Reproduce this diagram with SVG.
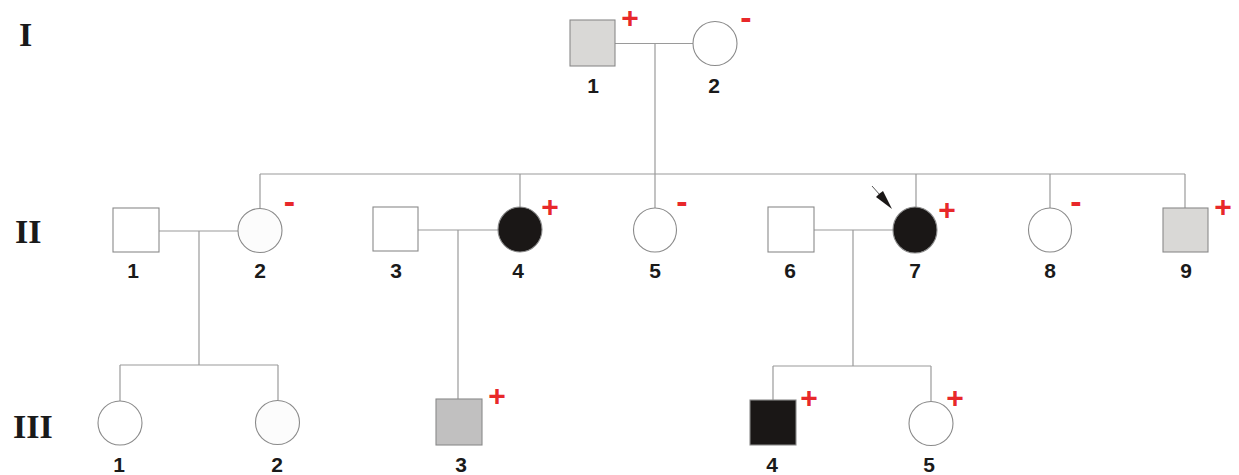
<svg xmlns="http://www.w3.org/2000/svg" width="1239" height="475" viewBox="0 0 1239 475">
<style>
.ln{stroke:#9a9a9a;stroke-width:1.2;fill:none}
.nd{stroke:#8a8a8a;stroke-width:1.1}
.w{fill:#ffffff}
.g{fill:#d9d8d6}
.g2{fill:#c1c0c0}
.b{fill:#1a1716}
.lab{font-family:"Liberation Sans",Arial,sans-serif;font-weight:bold;font-size:21px;fill:#1a1a1a;text-anchor:middle}
.gen{font-family:"Liberation Serif","Times New Roman",serif;font-weight:bold;font-size:34px;fill:#1a1a1a}
.plus{font-family:"Liberation Sans",Arial,sans-serif;font-weight:bold;font-size:30px;fill:#e8282a;text-anchor:middle}
.minus{font-family:"Liberation Sans",Arial,sans-serif;font-weight:bold;font-size:34px;fill:#e8282a;text-anchor:middle}
</style>
<g id="generations">
<text class="gen" x="19" y="46">I</text>
<text class="gen" x="15" y="243">II</text>
<text class="gen" x="13" y="438">III</text>
</g>
<g id="connectors">
<path class="ln" d="M615,43.5 H693"/>
<path class="ln" d="M655,43.5 V208"/>
<path class="ln" d="M260,174 H1185"/>
<path class="ln" d="M260,174 V208"/>
<path class="ln" d="M520,174 V207"/>
<path class="ln" d="M916,174 V207"/>
<path class="ln" d="M1050,174 V208"/>
<path class="ln" d="M1185,174 V208"/>
<path class="ln" d="M159,231 H238"/>
<path class="ln" d="M199,231 V365"/>
<path class="ln" d="M120,365 H278"/>
<path class="ln" d="M120,365 V401"/>
<path class="ln" d="M278,365 V400"/>
<path class="ln" d="M418,230 H498"/>
<path class="ln" d="M458,230 V399"/>
<path class="ln" d="M814,230 H893"/>
<path class="ln" d="M853,230 V366"/>
<path class="ln" d="M773,366 H931"/>
<path class="ln" d="M773,366 V400"/>
<path class="ln" d="M931,366 V401"/>
<path d="M872,186 L880,195" stroke="#555" stroke-width="1" fill="none"/>
<path d="M879,194 L876,197 L892,209 L883,191 Z" fill="#1a1716"/>
</g>
<g id="I-1"><rect class="nd g" x="570" y="20" width="45" height="46"/><text class="lab" x="593" y="93">1</text><text class="plus" x="630" y="28">+</text></g>
<g id="I-2"><circle class="nd w" cx="715" cy="43.5" r="22"/><text class="lab" x="714" y="93">2</text><text class="minus" x="746" y="29">-</text></g>
<g id="II-1"><rect class="nd w" x="113" y="208" width="46" height="44"/><text class="lab" x="133" y="278">1</text></g>
<g id="II-2"><circle class="nd" fill="#fcfcfc" cx="260" cy="230.5" r="22"/><text class="lab" x="260" y="278">2</text><text class="minus" x="289.5" y="213">-</text></g>
<g id="II-3"><rect class="nd w" x="373" y="207" width="45" height="44"/><text class="lab" x="396" y="278">3</text></g>
<g id="II-4"><ellipse class="nd b" cx="520" cy="229.5" rx="22" ry="22.5"/><text class="lab" x="518" y="278">4</text><text class="plus" x="550" y="217">+</text></g>
<g id="II-5"><ellipse class="nd w" cx="655" cy="230" rx="21.5" ry="22"/><text class="lab" x="655" y="278">5</text><text class="minus" x="682" y="213">-</text></g>
<g id="II-6"><rect class="nd w" x="768" y="207" width="46" height="45"/><text class="lab" x="790" y="278">6</text></g>
<g id="II-7"><ellipse class="nd b" cx="915" cy="230" rx="22" ry="23"/><text class="lab" x="915" y="278">7</text><text class="plus" x="947" y="220">+</text></g>
<g id="II-8"><ellipse class="nd w" cx="1050" cy="230" rx="21.5" ry="22"/><text class="lab" x="1050" y="278">8</text><text class="minus" x="1076" y="213">-</text></g>
<g id="II-9"><rect class="nd g" x="1163" y="208" width="45" height="44"/><text class="lab" x="1186" y="278">9</text><text class="plus" x="1223" y="217">+</text></g>
<g id="III-1"><circle class="nd w" cx="120" cy="423" r="22"/><text class="lab" x="119" y="472">1</text></g>
<g id="III-2"><circle class="nd" fill="#fcfcfc" cx="277.5" cy="422.5" r="22"/><text class="lab" x="277" y="472">2</text></g>
<g id="III-3"><rect class="nd g2" x="436" y="399" width="46" height="46"/><text class="lab" x="461" y="472">3</text><text class="plus" x="497" y="406">+</text></g>
<g id="III-4"><rect class="nd b" x="750" y="400" width="46" height="45"/><text class="lab" x="772" y="472">4</text><text class="plus" x="809" y="408">+</text></g>
<g id="III-5"><circle class="nd w" cx="931" cy="423.5" r="22"/><text class="lab" x="929" y="472">5</text><text class="plus" x="955" y="408">+</text></g>
</svg>
